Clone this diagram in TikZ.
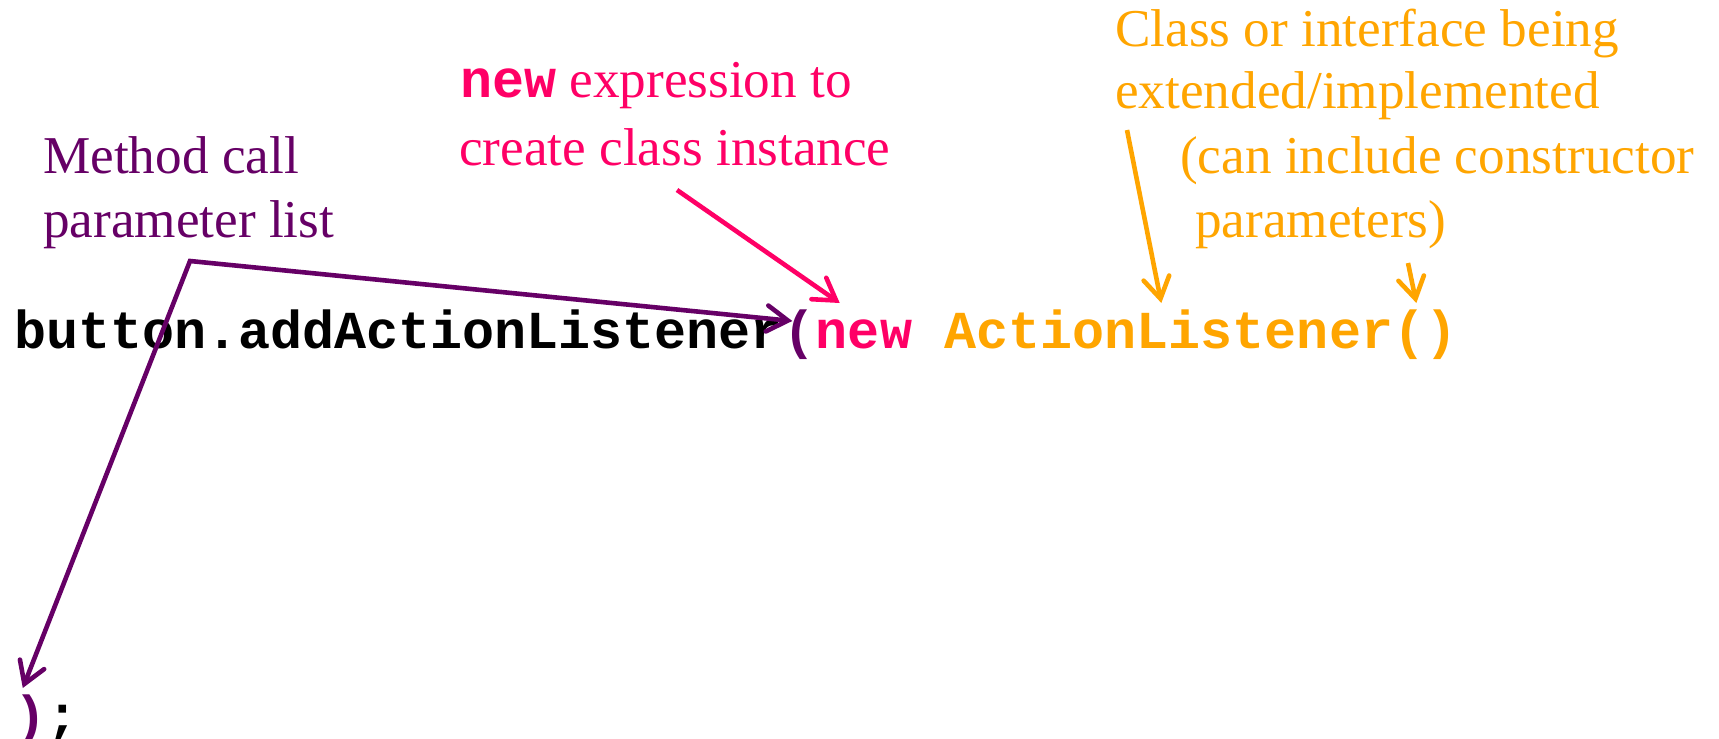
\documentclass[tikz,border=0pt]{standalone}
\usepackage{fontspec}
\setmainfont{Liberation Serif}
\setmonofont{Liberation Mono}
\usetikzlibrary{arrows.meta}
\definecolor{cpurple}{RGB}{102,0,102}
\definecolor{cpink}{RGB}{255,0,102}
\definecolor{corange}{RGB}{255,165,0}
\begin{document}
\begin{tikzpicture}[x=1pt,y=-1pt,
  code/.style={inner sep=0pt, anchor=base west, font=\fontsize{53.4}{64}\selectfont\ttfamily\bfseries},
  lbl/.style={inner sep=0pt, anchor=base west, font=\fontsize{53.2}{64}\selectfont},
  barb/.tip={Straight Barb[length=21pt,width=26pt,line cap=round]},
  arr/.style={line width=4.6pt, line join=miter, -barb}]
\useasboundingbox[fill=white] (0,0) rectangle (1719,739);
% code
\node[code] (c1) at (13.8,348) {button.addActionListener};
\node[code, text=cpurple] (lp) at (c1.base east) {(};
\node[code, text=cpink] (nw) at (lp.base east) {new};
\node[code, text=corange] (al) at ([xshift=32.05pt]nw.base east) {ActionListener};
\node[code, text=corange] (pp) at (al.base east) {()};
\node[code, text=cpurple] (rp) at (13.8,733) {)};
\node[code] (sc) at (rp.base east) {;};
% labels
\node[lbl, text=cpurple] (m1) at (43,173) {Method call};
\node[lbl, text=cpurple] (m2) at (43,237) {parameter list};
\node[lbl, text=cpink] (n1) at (460,97) {{\fontsize{53.4}{64}\ttfamily\bfseries\selectfont new} expression to};
\node[lbl, text=cpink] (n2) at (459,165) {create class instance};
\node[lbl, text=corange] (o1) at (1115,46) {Class or interface being};
\node[lbl, text=corange] (o2) at (1115,108) {extended/implemented};
\node[lbl, text=corange] (o3) at (1180,173) {(can include constructor};
\node[lbl, text=corange] (o4) at (1195,237) {parameters)};
% connectors
\coordinate (pc) at (190,261);
\coordinate (pks) at (677,190);
\coordinate (os1) at (1127,130);
\coordinate (os2) at (1408,263);
\draw[arr, cpurple, barb-barb] ([shift={(9,-45)}]rp.base west) -- (pc) -- ([shift={(9,-27)}]lp.base west);
\draw[arr, cpink] (pks) -- ([shift={(24,-45)}]nw.base west);
\draw[arr, corange] (os1) -- ([shift={(217,-45)}]al.base west);
\draw[arr, corange] (os2) -- ([shift={(23,-45)}]pp.base west);
\end{tikzpicture}
\end{document}
